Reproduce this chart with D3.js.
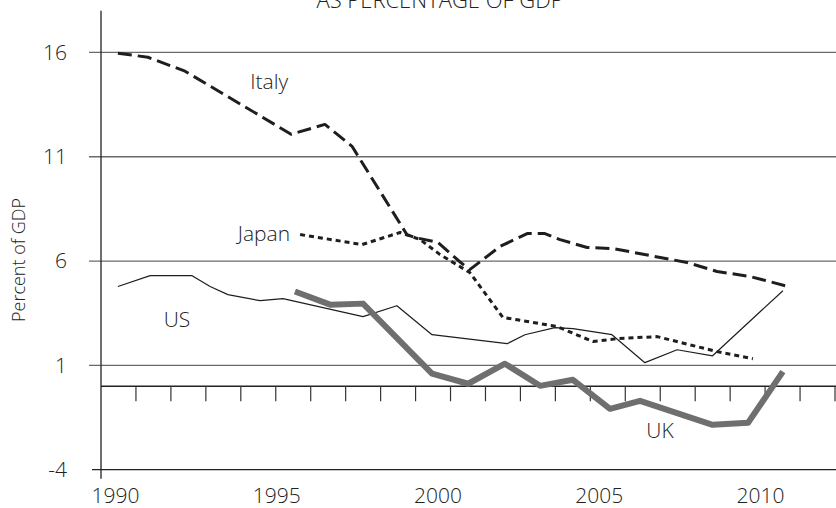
<!DOCTYPE html>
<html>
<head>
<meta charset="utf-8">
<script src="https://cdn.jsdelivr.net/npm/d3@7"></script>
<style>
	body { margin: 0; background: #fff; }
	text { font-family: "Open Sans", sans-serif; font-weight: 300; fill: #222; }
</style>
</head>
<body>
<svg class="canvas"></svg>
<script>
const width = 836;
const height = 508;

// data (years are where the vertices sit on the time axis)
const yTicks = [-4, 1, 6, 11, 16];
const yGrid = [1, 6, 11, 16];
const xTicks = [1990, 1995, 2000, 2005, 2010];

const italyYears = [1990.09, 1991.02, 1992.17, 1995.46, 1996.51, 1997.35, 1999.05, 1999.3, 2000.02, 2000.68, 2001.0, 2001.94, 2002.78, 2003.33, 2003.8, 2004.64, 2005.44, 2007.74, 2008.67, 2009.69, 2010.78];
const italyValues = [15.96, 15.77, 15.1, 12.08, 12.55, 11.5, 7.27, 7.13, 6.89, 5.98, 5.59, 6.7, 7.32, 7.32, 7.03, 6.65, 6.6, 5.93, 5.5, 5.26, 4.82];

const japanYears = [1995.74, 1997.66, 1998.84, 1999.46, 2000.08, 2001.0, 2002.03, 2002.47, 2003.71, 2004.82, 2005.57, 2006.81, 2008.67, 2009.78];
const japanValues = [7.27, 6.79, 7.37, 7.03, 6.31, 5.45, 3.29, 3.19, 2.86, 2.14, 2.28, 2.38, 1.66, 1.32];

const usYears = [1990.09, 1991.09, 1992.39, 1992.95, 1993.5, 1994.5, 1995.21, 1997.69, 1998.74, 1999.83, 2002.16, 2002.71, 2003.64, 2004.2, 2005.41, 2006.43, 2007.43, 2008.53, 2010.71];
const usValues = [4.78, 5.3, 5.3, 4.78, 4.39, 4.1, 4.2, 3.34, 3.86, 2.47, 2.04, 2.47, 2.81, 2.76, 2.47, 1.13, 1.75, 1.46, 4.58];

const ukYears = [1995.58, 1996.67, 1997.69, 1999.83, 2000.95, 2002.09, 2003.18, 2004.2, 2005.35, 2006.28, 2008.53, 2009.63, 2010.71];
const ukValues = [4.54, 3.91, 3.96, 0.6, 0.12, 1.08, 0.02, 0.31, -1.08, -0.7, -1.85, -1.75, 0.7];

const series = [
	{ name: "Italy", years: italyYears, values: italyValues, color: "#1e1e1e", width: 3, dash: "14,6", label: [1994.78, 14.24, "middle"] },
	{ name: "Japan", years: japanYears, values: japanValues, color: "#1e1e1e", width: 3, dash: "5,4", label: [1995.43, 6.96, "end"] },
	{ name: "US", years: usYears, values: usValues, color: "#1e1e1e", width: 1.2, dash: null, label: [1991.92, 2.85, "middle"] },
	{ name: "UK", years: ukYears, values: ukValues, color: "#6f6f6f", width: 6, dash: null, label: [2006.9, -2.48, "middle"] }
];

const plotLeft = 101;
const plotRight = 836;

const svg = d3.select(".canvas")
	.attr("width", width)
	.attr("height", height);

const x = d3.scaleLinear()
	.domain([1990, 2010])
	.range([115, 760]);

const y = d3.scaleLinear()
	.domain([-4, 18])
	.range([469.7, 10.7]);

// horizontal grid
svg.selectAll(".grid")
	.data(yGrid)
	.join("line")
	.attr("class", "grid")
	.attr("x1", 89)
	.attr("x2", plotRight)
	.attr("y1", d => y(d))
	.attr("y2", d => y(d))
	.attr("stroke", "#6a6a6a")
	.attr("stroke-width", 1.3);

// bottom frame line
svg.append("line")
	.attr("x1", 92)
	.attr("x2", plotRight)
	.attr("y1", y(-4))
	.attr("y2", y(-4))
	.attr("stroke", "#222")
	.attr("stroke-width", 1.3);

// y axis labels (plain hyphen for the minus, like the original)
const yAxis = d3.axisLeft(y)
	.tickValues(yTicks)
	.tickSize(0)
	.tickPadding(34)
	.tickFormat(d => String(d));

svg.append("g")
	.attr("transform", `translate(${plotLeft},0)`)
	.call(yAxis)
	.call(g => g.select(".domain").remove())
	.selectAll("text")
	.attr("font-size", 21)
	.attr("font-family", null)
	.attr("fill", "#222");

svg.append("line")
	.attr("x1", plotLeft)
	.attr("x2", plotLeft)
	.attr("y1", y(18))
	.attr("y2", y(-4) + 9)
	.attr("stroke", "#222")
	.attr("stroke-width", 1.3);

// x axis labels
const xAxis = d3.axisBottom(x)
	.tickValues(xTicks)
	.tickSize(0)
	.tickPadding(18)
	.tickFormat(d3.format("d"));

svg.append("g")
	.attr("transform", `translate(0,${y(-4)})`)
	.call(xAxis)
	.call(g => g.select(".domain").remove())
	.selectAll("text")
	.attr("font-size", 21)
	.attr("font-family", null)
	.attr("fill", "#222");

// zero line with the little year ticks
const minor = d3.scaleLinear().domain([0, 21]).range([plotLeft, 835]);

svg.append("line")
	.attr("x1", plotLeft)
	.attr("x2", plotRight)
	.attr("y1", y(0))
	.attr("y2", y(0))
	.attr("stroke", "#222")
	.attr("stroke-width", 1.3);

svg.selectAll(".minor")
	.data(d3.range(1, 22))
	.join("line")
	.attr("class", "minor")
	.attr("x1", d => minor(d))
	.attr("x2", d => minor(d))
	.attr("y1", y(0))
	.attr("y2", y(0) + 15)
	.attr("stroke", "#333")
	.attr("stroke-width", 1.2);

// the lines
const line = d3.line()
	.x(d => x(d[0]))
	.y(d => y(d[1]));

svg.selectAll(".series")
	.data(series)
	.join("path")
	.attr("class", "series")
	.attr("d", d => line(d.years.map((yr, i) => [yr, d.values[i]])))
	.attr("fill", "none")
	.attr("stroke", d => d.color)
	.attr("stroke-width", d => d.width)
	.attr("stroke-dasharray", d => d.dash)
	.attr("stroke-linejoin", "round");

svg.selectAll(".label")
	.data(series)
	.join("text")
	.attr("class", "label")
	.attr("x", d => x(d.label[0]))
	.attr("y", d => y(d.label[1]))
	.attr("text-anchor", d => d.label[2])
	.attr("font-size", 21)
	.text(d => d.name);

// title, cut off by the top edge as in the original
svg.append("text")
	.attr("x", 440)
	.attr("y", 8)
	.attr("text-anchor", "middle")
	.attr("font-size", 22)
	.text("AS PERCENTAGE OF GDP");

svg.append("text")
	.attr("transform", `translate(25,${260}) rotate(-90)`)
	.attr("text-anchor", "middle")
	.attr("font-size", 18)
	.text("Percent of GDP");
</script>
</body>
</html>
